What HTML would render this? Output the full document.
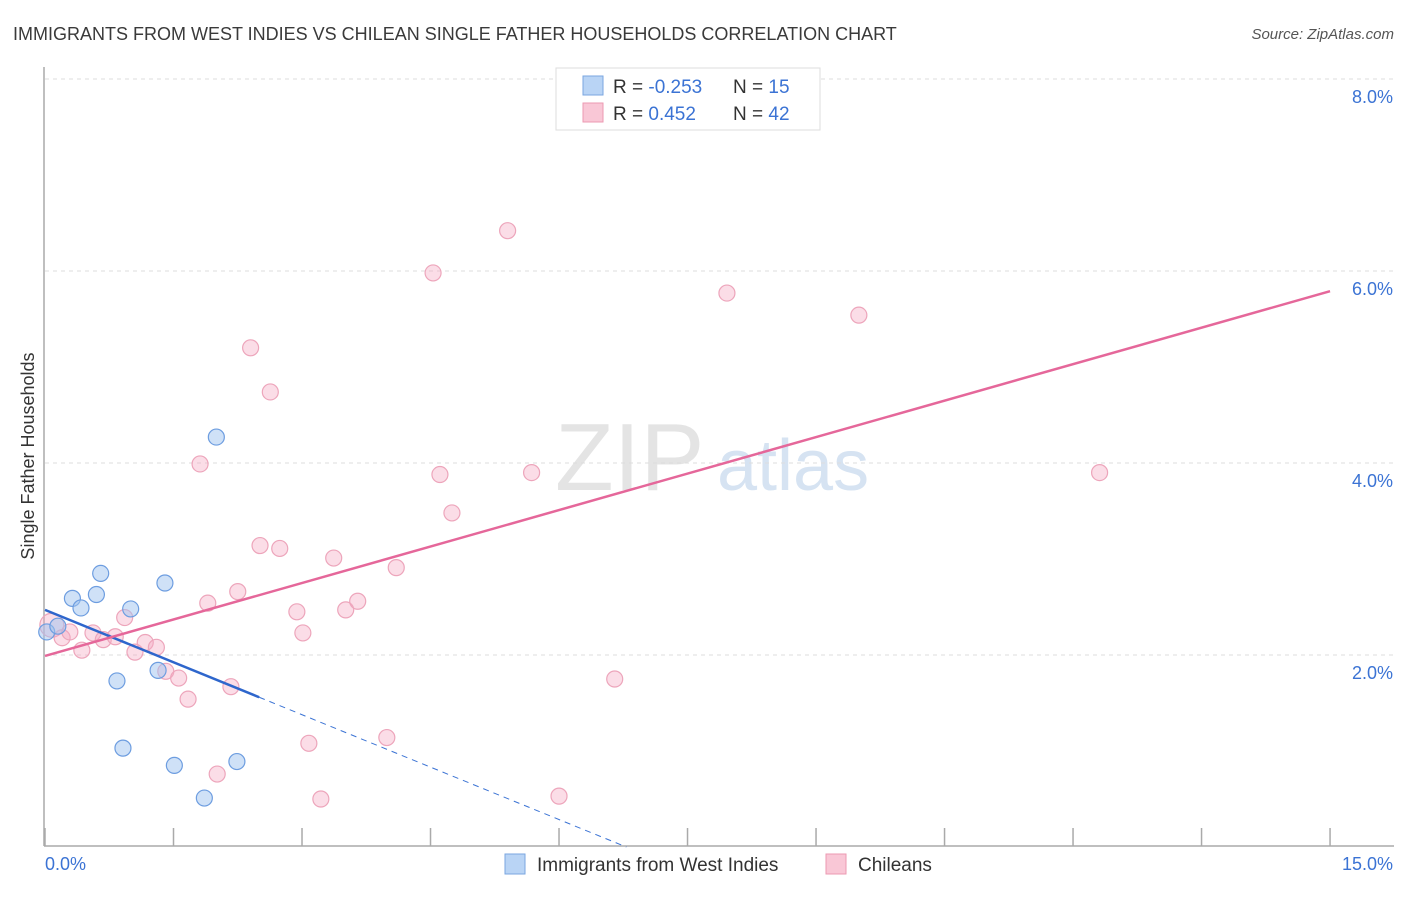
<!DOCTYPE html>
<html><head><meta charset="utf-8"><style>
body{margin:0;background:#fff;font-family:"Liberation Sans",sans-serif;}
svg text{font-family:"Liberation Sans",sans-serif;}
</style></head><body>
<svg id="chart" width="1406" height="892" viewBox="0 0 1406 892" xmlns="http://www.w3.org/2000/svg">
<text x="13" y="40" font-size="18" fill="#3a3a3a">IMMIGRANTS FROM WEST INDIES VS CHILEAN SINGLE FATHER HOUSEHOLDS CORRELATION CHART</text>
<text x="1394" y="39" font-size="15" fill="#555" text-anchor="end" font-style="italic">Source: ZipAtlas.com</text>
<g>
<text x="555" y="490" font-size="96" fill="#e4e4e4" font-family="Liberation Serif">ZIP</text>
<text x="717" y="490" font-size="72" fill="#d6e3f2">atlas</text>
</g>
<g id="grid"></g>
<g id="axes"></g>
<g id="marks"></g>
<text transform="translate(34,456) rotate(-90)" font-size="18" fill="#333" text-anchor="middle">Single Father Households</text>
<g>
<rect x="556" y="68" width="264" height="62" fill="#fff" stroke="#ddd"/>
<rect x="583" y="76" width="20" height="19" fill="#b9d4f5" stroke="#7aa6e0"/>
<rect x="583" y="103" width="20" height="19" fill="#f9c7d6" stroke="#ec9ab2"/>
<text x="613" y="93" font-size="19" fill="#333">R = <tspan fill="#3b73d4">-0.253</tspan></text>
<text x="733" y="93" font-size="19" fill="#333">N = <tspan fill="#3b73d4"> 15</tspan></text>
<text x="613" y="120" font-size="19" fill="#333">R = <tspan fill="#3b73d4"> 0.452</tspan></text>
<text x="733" y="120" font-size="19" fill="#333">N = <tspan fill="#3b73d4">42</tspan></text>
</g>
<g>
<rect x="505" y="854" width="20" height="20" fill="#b9d4f5" stroke="#7aa6e0"/>
<text x="537" y="871" font-size="19" fill="#333">Immigrants from West Indies</text>
<rect x="826" y="854" width="20" height="20" fill="#f9c7d6" stroke="#ec9ab2"/>
<text x="858" y="871" font-size="19" fill="#333">Chileans</text>
</g>
</svg>
<script>
const xTicks=[0,1.5,3,4.5,6,7.5,9,10.5,12,13.5,15];
const yTicks=[2,4,6,8];
const yTickLabels=["2.0%","4.0%","6.0%","8.0%"];
const xEndLabels=["0.0%","15.0%"];
const blueX=[0.02,0.15,0.32,0.65,0.60,0.42,1.00,1.40,2.00,0.84,1.32,0.91,1.51,2.24,1.86];
const blueY=[2.24,2.30,2.59,2.85,2.63,2.49,2.48,2.75,4.27,1.73,1.84,1.03,0.85,0.89,0.51];
const pinkX=[0.08,0.20,0.29,0.43,0.56,0.68,0.82,0.93,1.05,1.17,1.30,1.41,1.56,1.67,1.81,1.90,2.01,2.17,2.25,2.40,2.51,2.63,2.74,2.94,3.01,3.08,3.22,3.37,3.51,3.65,3.99,4.10,4.53,4.61,4.75,5.40,5.68,6.00,6.65,7.96,9.50,12.31];
const pinkY=[2.31,2.18,2.24,2.05,2.23,2.16,2.19,2.39,2.03,2.13,2.08,1.83,1.76,1.54,3.99,2.54,0.76,1.67,2.66,5.20,3.14,4.74,3.11,2.45,2.23,1.08,0.50,3.01,2.47,2.56,1.14,2.91,5.98,3.88,3.48,6.42,3.90,0.53,1.75,5.77,5.54,3.90];
const blueTrend=[2.47,-0.364]; // intercept, slope
const blueSolidEnd=2.5;
const pinkTrend=[1.99,0.2533];
const X=v=>45+v*85.67, Y=v=>847-v*96;
const NS="http://www.w3.org/2000/svg";
function mk(tag,attrs,parent){const e=document.createElementNS(NS,tag);for(const k in attrs)e.setAttribute(k,attrs[k]);document.getElementById(parent).appendChild(e);return e;}
yTicks.forEach((t,i)=>{
 const l=mk('line',{x1:45,x2:1394,y1:Y(t),y2:Y(t),stroke:'#ddd','stroke-dasharray':'4,4'},'grid');
 
 
 const tx=mk('text',{x:1393,y:Y(t)+24,'font-size':18,fill:'#3b73d4','text-anchor':'end'},'axes');
 tx.textContent=yTickLabels[i];
 
 
});
const tl=mk('line',{x1:45,x2:1394,y1:79,y2:79,stroke:'#ddd','stroke-dasharray':'4,4'},'grid');


const ya=mk('line',{x1:44,x2:44,y1:67,y2:846,stroke:'#aaa','stroke-width':1.5},'axes');


const xa=mk('line',{x1:44,x2:1394,y1:846,y2:846,stroke:'#aaa','stroke-width':1.5},'axes');


xTicks.forEach(t=>{
 const l=mk('line',{x1:X(t),x2:X(t),y1:828,y2:846,stroke:'#aaa','stroke-width':1.5},'axes');
 
 
});
[[0,'start',45],[15,'end',1393]].forEach((d,i)=>{
 const tx=mk('text',{x:d[2],y:870,'font-size':18,fill:'#3b73d4','text-anchor':d[1]},'axes');
 tx.textContent=xEndLabels[i];
 
 
});
// points
pinkX.forEach((x,i)=>{
 const c=mk('circle',{cx:X(x),cy:Y(pinkY[i]),r:i===0?12:8,fill:'rgba(246,170,195,0.4)',stroke:'#eda5bb','stroke-width':1.2},'marks');
 
 
});
blueX.forEach((x,i)=>{
 const c=mk('circle',{cx:X(x),cy:Y(blueY[i]),r:8,fill:'rgba(160,196,240,0.5)',stroke:'#6d9de0','stroke-width':1.2},'marks');
 
 
});
// trend lines
const bZero=-blueTrend[0]/blueTrend[1];
const bd=mk('line',{x1:X(blueSolidEnd),y1:Y(blueTrend[0]+blueTrend[1]*blueSolidEnd),x2:X(bZero),y2:Y(0),stroke:'#3b73d4','stroke-width':1,'stroke-dasharray':'6,5'},'marks');


const bs=mk('line',{x1:X(0),y1:Y(blueTrend[0]),x2:X(blueSolidEnd),y2:Y(blueTrend[0]+blueTrend[1]*blueSolidEnd),stroke:'#2e66cc','stroke-width':2.5},'marks');


const ps=mk('line',{x1:X(0),y1:Y(pinkTrend[0]),x2:X(15),y2:Y(pinkTrend[0]+pinkTrend[1]*15),stroke:'#e5679a','stroke-width':2.5},'marks');


</script>
</body></html>
